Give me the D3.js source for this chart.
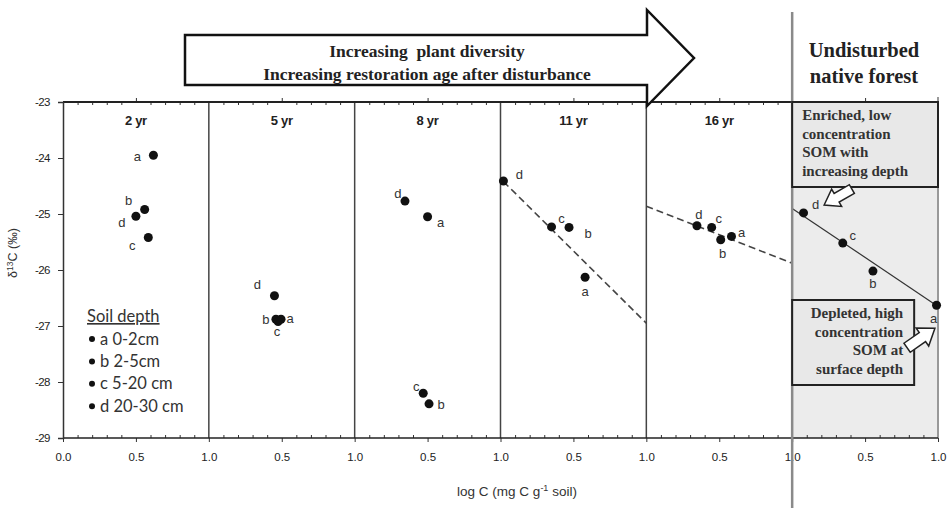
<!DOCTYPE html>
<html>
<head>
<meta charset="utf-8">
<style>
  body { margin: 0; background: #fff; }
  svg text { font-family: "Liberation Sans", Arial, sans-serif; fill: #222; }
  svg .serif { font-family: "Liberation Serif", "Times New Roman", serif; font-weight: bold; }
  svg .tick text { font-size: 11.5px; fill: #222; }
  svg .tick line { stroke: #333; stroke-width: 1px; }
  svg .ptlabel { font-size: 13px; fill: #333; }
  svg .legend text { font-family: Lato, "Open Sans", sans-serif; font-size: 16.5px; fill: #333; }
</style>
</head>
<body>
<div id="chart"></div>
<script src="https://cdnjs.cloudflare.com/ajax/libs/d3/7.8.5/d3.min.js"></script>
<script>
// panels (restoration age) and soil depths
var panels = ["2 yr", "5 yr", "8 yr", "11 yr", "16 yr", "native"];
var panelTitles = ["2 yr", "5 yr", "8 yr", "11 yr", "16 yr", ""];
var depths = ["a", "b", "c", "d"];
var depthNames = ["a 0-2cm", "b 2-5cm", "c 5-20 cm", "d 20-30 cm"];

// log C per panel, in depth order a b c d
var logC = [
  [0.62, 0.56, 0.585, 0.50],
  [0.495, 0.46, 0.475, 0.45],
  [0.50, 0.51, 0.47, 0.345],
  [0.58, 0.47, 0.35, 0.02],
  [0.584, 0.51, 0.448, 0.347],
  [0.99, 0.554, 0.347, 0.078]
];
// delta 13C per panel, depth order a b c d
var d13C = [
  [-23.95, -24.92, -25.42, -25.04],
  [-26.88, -26.88, -26.92, -26.46],
  [-25.05, -28.39, -28.20, -24.77],
  [-26.13, -25.24, -25.23, -24.41],
  [-25.40, -25.46, -25.24, -25.21],
  [-26.63, -26.02, -25.52, -24.98]
];

// fitted lines: panel index, start [x, y], end [x, y]
var trendPanel = [3, 4, 5];
var trendStart = [[0.02, -24.42], [0.0, -24.86], [0.0, -24.90]];
var trendEnd = [[1.0, -26.95], [1.0, -25.88], [1.0, -26.65]];

var yTicks = [-23, -24, -25, -26, -27, -28, -29];
var xMajor = [0.0, 0.5, 1.0];
var xMinor = [0.1, 0.2, 0.3, 0.4, 0.6, 0.7, 0.8, 0.9];

// label nudges (px) per panel / depth a b c d
var labelNudge = [
  [[-16, 1], [-16, -9], [-16, 8], [-14, 6]],
  [[9, -1], [-10, 0], [-1, 10], [-17, -11]],
  [[13, 6], [12, 1], [-7, -7], [-7, -8]],
  [[0, 14], [19, 6], [10, -8], [16, -6]],
  [[10, -4], [2, 14], [7, -9], [2, -11]],
  [[-3, 13], [0, 12], [10, -8], [12, -8]]
];

var width = 947, height = 508;
var svg = d3.select("#chart").append("svg")
    .attr("width", width)
    .attr("height", height);

var band = d3.scaleBand().domain(panels).range([63, 938]);
var x = d3.scaleLinear().domain([0, 1]).range([0, band.bandwidth()]);
var y = d3.scaleLinear().domain([-29, -23]).range([438, 102]);

// native forest shading
var nx = band("native");
svg.append("rect")
    .attr("x", nx).attr("y", y(-23))
    .attr("width", band.bandwidth()).attr("height", y(-29) - y(-23))
    .style("fill", "#ececec");

// panel separators
svg.selectAll("line.sep")
  .data(panels.slice(1, 5))
  .enter().append("line")
    .attr("x1", function (d) { return band(d); })
    .attr("x2", function (d) { return band(d); })
    .attr("y1", y(-23)).attr("y2", y(-29))
    .style("stroke", "#444").style("stroke-width", "1.5px");

// right edge
svg.append("line")
    .attr("x1", 938).attr("x2", 938).attr("y1", 97).attr("y2", y(-29))
    .style("stroke", "#999").style("stroke-width", "2px");

// per panel axes, titles, points
panels.forEach(function (p, i) {
  var g = svg.append("g").attr("transform", "translate(" + band(p) + ",0)");

  var bot = g.append("g").attr("transform", "translate(0," + y(-29) + ")")
    .call(d3.axisBottom(x)
      .tickValues(i === 0 ? xMajor : xMajor.slice(1))
      .tickFormat(d3.format(".1f"))
      .tickSize(4).tickPadding(11));
  bot.select(".domain").remove();
  var botMinor = g.append("g").attr("transform", "translate(0," + y(-29) + ")")
    .call(d3.axisBottom(x).tickValues(xMinor).tickFormat("").tickSize(-3));
  botMinor.select(".domain").remove();

  var top = g.append("g").attr("transform", "translate(0," + y(-23) + ")")
    .call(d3.axisTop(x).tickValues([0.5]).tickFormat("").tickSize(4));
  top.select(".domain").remove();
  var topMinor = g.append("g").attr("transform", "translate(0," + y(-23) + ")")
    .call(d3.axisTop(x).tickValues(xMinor).tickFormat("").tickSize(-3));
  topMinor.select(".domain").remove();

  g.append("text")
    .attr("x", x(0.5)).attr("y", 125)
    .attr("text-anchor", "middle")
    .style("font-size", "13px").style("font-weight", "bold")
    .style("letter-spacing", "-0.3px")
    .text(panelTitles[i]);
});

// horizontal frame lines
svg.append("line")
    .attr("x1", 63).attr("x2", 938).attr("y1", y(-23)).attr("y2", y(-23))
    .style("stroke", "#222").style("stroke-width", "1.8px");
svg.append("line")
    .attr("x1", 63).attr("x2", 938).attr("y1", y(-29)).attr("y2", y(-29))
    .style("stroke", "#222").style("stroke-width", "1.5px");

// y axis
var ya = svg.append("g").attr("transform", "translate(63,0)")
  .call(d3.axisLeft(y).tickValues(yTicks)
    .tickFormat(function (d) { return String(d); })
    .tickSize(5).tickPadding(8));
ya.select(".domain").style("stroke", "#333").style("stroke-width", "1.5px");
ya.selectAll(".tick text").style("letter-spacing", "-0.5px");

// y label
var yl = svg.append("text")
    .attr("transform", "translate(17,253) rotate(-90)")
    .attr("text-anchor", "middle")
    .style("font-size", "12.5px").style("fill", "#333");
yl.append("tspan").text("δ");
yl.append("tspan").attr("dy", "-4").style("font-size", "8.5px").text("13");
yl.append("tspan").attr("dy", "4").text("C (‰)");

// x label
var xl = svg.append("text")
    .attr("x", 517).attr("y", 496)
    .attr("text-anchor", "middle")
    .style("font-size", "13.5px").style("fill", "#333");
xl.append("tspan").text("log C (mg C g");
xl.append("tspan").attr("dy", "-5").style("font-size", "9px").text("-1");
xl.append("tspan").attr("dy", "5").text(" soil)");

// fitted lines
trendPanel.forEach(function (pi, k) {
  svg.append("line")
    .attr("x1", band(panels[pi]) + x(trendStart[k][0]))
    .attr("y1", y(trendStart[k][1]))
    .attr("x2", band(panels[pi]) + x(trendEnd[k][0]))
    .attr("y2", y(trendEnd[k][1]))
    .style("stroke", pi === 5 ? "#333" : "#444")
    .style("stroke-width", pi === 5 ? "1.2px" : "1.6px")
    .style("stroke-dasharray", pi === 5 ? null : "7,4");
});

// points and labels
panels.forEach(function (p, i) {
  depths.forEach(function (dp, j) {
    var cx = band(p) + x(logC[i][j]);
    var cy = y(d13C[i][j]);
    svg.append("circle")
      .attr("cx", cx).attr("cy", cy).attr("r", 4.5)
      .style("fill", "#111");
    svg.append("text")
      .classed("ptlabel", true)
      .attr("x", cx + labelNudge[i][j][0])
      .attr("y", cy + labelNudge[i][j][1])
      .attr("text-anchor", "middle")
      .attr("dominant-baseline", "central")
      .text(dp);
  });
});

// legend
var lg = svg.append("g").classed("legend", true);
lg.append("text")
    .attr("x", 87).attr("y", 322)
    .style("text-decoration", "underline")
    .text("Soil depth");
depthNames.forEach(function (n, k) {
  var ly = 339 + k * 22.4;
  lg.append("circle").attr("cx", 92).attr("cy", ly).attr("r", 3).style("fill", "#111");
  lg.append("text").attr("x", 100).attr("y", ly + 5.5).text(n);
});

// native forest divider
svg.append("line")
    .attr("x1", nx).attr("x2", nx).attr("y1", 12).attr("y2", height)
    .style("stroke", "#8a8a8a").style("stroke-width", "2.5px");

// annotation boxes
function box(x0, y0, w, h) {
  svg.append("rect")
    .attr("x", x0).attr("y", y0).attr("width", w).attr("height", h)
    .style("fill", "#e8e8e8").style("stroke", "#222").style("stroke-width", "2px");
}
box(nx, y(-23), band.bandwidth(), 85);
["Enriched, low", "concentration", "SOM with", "increasing depth"].forEach(function (t, k) {
  svg.append("text").classed("serif", true)
    .attr("x", nx + 10).attr("y", 120 + k * 18.5)
    .style("font-size", "15px").style("fill", "#333")
    .text(t);
});
box(nx, 300, 122, 85);
["Depleted, high", "concentration", "SOM at", "surface depth"].forEach(function (t, k) {
  svg.append("text").classed("serif", true)
    .attr("x", nx + 111).attr("y", 318 + k * 18.7)
    .attr("text-anchor", "end")
    .style("font-size", "15px").style("fill", "#333")
    .text(t);
});

// small block arrows
function blockArrow(cx, cy, len, wid, ang) {
  var hl = len * 0.45, tw = wid * 0.25, hw = wid * 0.5;
  var pts = [[-len / 2, -tw], [len / 2 - hl, -tw], [len / 2 - hl, -hw], [len / 2, 0],
             [len / 2 - hl, hw], [len / 2 - hl, tw], [-len / 2, tw]];
  svg.append("polygon")
    .attr("points", pts.map(function (q) { return q.join(","); }).join(" "))
    .attr("transform", "translate(" + cx + "," + cy + ") rotate(" + ang + ")")
    .style("fill", "#fff").style("stroke", "#222").style("stroke-width", "1.5px");
}
blockArrow(838, 197, 32, 20, 150);
blockArrow(921, 338, 34, 22, -35);

// big arrow
var arrowPts = [[185, 35], [647, 35], [647, 10], [694, 58], [647, 106], [647, 85], [185, 85]];
svg.append("polygon")
    .attr("points", arrowPts.map(function (q) { return q.join(","); }).join(" "))
    .style("fill", "#fff").style("stroke", "#111").style("stroke-width", "2.5px");
svg.append("text").classed("serif", true)
    .attr("x", 427).attr("y", 57)
    .attr("text-anchor", "middle")
    .style("font-size", "17.5px").style("white-space", "pre")
    .text("Increasing  plant diversity");
svg.append("text").classed("serif", true)
    .attr("x", 427).attr("y", 80)
    .attr("text-anchor", "middle")
    .style("font-size", "17.5px")
    .text("Increasing restoration age after disturbance");

// header
svg.append("text").classed("serif", true)
    .attr("x", 864).attr("y", 57).attr("text-anchor", "middle")
    .style("font-size", "20.5px").text("Undisturbed");
svg.append("text").classed("serif", true)
    .attr("x", 864).attr("y", 83).attr("text-anchor", "middle")
    .style("font-size", "20.5px").text("native forest");
</script>
</body>
</html>
